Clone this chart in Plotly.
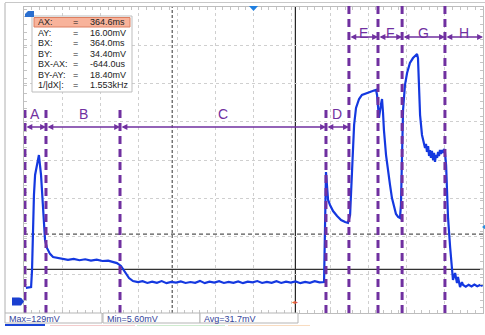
import plotly.graph_objects as go

# ---------------- data ----------------
# time in ms from the left edge of the screen (0.2 ms/div), voltage in mV (20 mV/div)
t_ms = [0.010, 0.037, 0.042, 0.047, 0.052, 0.058, 0.063, 0.068, 0.073, 0.078,
        0.089, 0.094, 0.099, 0.105, 0.110, 0.120, 0.136, 0.152, 0.173,
        0.200, 0.230, 0.260, 0.290, 0.320, 0.350, 0.380, 0.410, 0.440,
        0.460, 0.486, 0.507, 0.528, 0.549, 0.570, 0.596,
        0.620, 0.645, 0.670, 0.695, 0.720, 0.745, 0.770, 0.795, 0.820, 0.845,
        0.870, 0.895, 0.920, 0.945, 0.970, 0.995, 1.020, 1.045, 1.070, 1.095,
        1.120, 1.145, 1.170, 1.195, 1.220, 1.245, 1.270, 1.295, 1.320, 1.345,
        1.370, 1.395, 1.420, 1.445, 1.470, 1.495, 1.520, 1.545,
        1.569, 1.574, 1.579, 1.584, 1.590, 1.600, 1.616, 1.637, 1.658, 1.679,
        1.694, 1.705, 1.715, 1.726, 1.736, 1.752, 1.767, 1.788, 1.809, 1.830,
        1.841, 1.846, 1.856, 1.867, 1.872, 1.877, 1.882, 1.893, 1.903, 1.914,
        1.924, 1.935, 1.945, 1.956, 1.966, 1.971, 1.977, 1.982, 1.992, 2.003,
        2.018, 2.034, 2.050, 2.055, 2.060, 2.065, 2.071, 2.081, 2.092, 2.097,
        2.102, 2.107, 2.113, 2.118, 2.123, 2.128, 2.133, 2.139, 2.144, 2.149,
        2.154, 2.160, 2.165, 2.170, 2.175, 2.180, 2.186, 2.191, 2.196, 2.201,
        2.207, 2.212, 2.217, 2.228, 2.238, 2.243, 2.254, 2.264, 2.269, 2.280,
        2.290, 2.296, 2.310, 2.325, 2.340, 2.355, 2.370, 2.385, 2.398]
v_mv = [6.3, 6.8, 15.7, 36.6, 54.9, 65.4, 68.0, 70.1, 73.2, 75.8,
        65.4, 56.5, 44.4, 36.6, 31.4, 27.2, 24.1, 22.5, 22.0,
        21.6, 21.0, 21.5, 20.8, 21.3, 20.6, 21.1, 20.4, 20.6,
        19.9, 19.3, 17.8, 14.6, 11.5, 9.9, 9.4,
        9.8, 8.9, 9.6, 9.0, 9.9, 8.8, 9.5, 9.1, 9.7, 8.9,
        9.4, 9.0, 10.0, 8.8, 9.6, 9.1, 9.8, 8.9, 9.5, 9.0,
        9.7, 8.8, 9.6, 9.2, 9.9, 8.9, 9.5, 9.0, 9.8, 8.9,
        9.6, 9.1, 9.7, 8.8, 9.5, 9.0, 9.8, 9.2,
        9.4, 31.4, 66.9, 60.1, 52.3, 49.7, 46.5, 43.9, 41.8, 40.8,
        40.3, 44.4, 68.0, 91.5, 100.4, 105.1, 107.2, 108.2, 108.8, 109.5,
        109.8, 107.2, 95.2, 102.5, 105.1, 98.3, 88.9, 75.8, 66.9, 60.1,
        53.3, 48.1, 45.0, 43.4, 42.9, 49.7, 78.4, 99.4, 112.4, 118.7,
        123.9, 126.5, 128.1, 128.6, 126.5, 112.4, 96.7, 86.3, 82.1, 79.5,
        81.6, 77.4, 80.5, 75.3, 78.4, 74.3, 77.9, 73.2, 76.9, 72.2,
        75.8, 74.3, 77.4, 75.3, 78.4, 76.3, 78.4, 76.9, 79.0, 77.4,
        70.6, 59.1, 43.4, 27.7, 17.3, 10.5, 14.1, 8.9, 12.0, 6.8,
        9.4, 7.8, 7.0, 8.0, 7.1, 8.1, 7.2, 7.9, 7.3]

region_names = ["A", "B", "C", "D", "E", "F", "G", "H"]
region_edges_ms = [0.005, 0.115, 0.502, 1.579, 1.699, 1.851, 1.977, 2.201, 2.400]
region_row = ["low", "low", "low", "low", "high", "high", "high", "high"]

cursor_names = ["AX:", "AY:", "BX:", "BY:", "BX-AX:", "BY-AY:", "1/|dX|:"]
cursor_values = ["364.6ms", "16.00mV", "364.0ms", "34.40mV", "-644.0us", "18.40mV", "1.553kHz"]
cursor_bx_ms = 0.775   # dashed vertical cursor
cursor_ax_ms = 1.419   # solid vertical cursor
cursor_ay_mv = 16.0    # solid horizontal cursor
cursor_by_mv = 34.4    # dashed horizontal cursor

stat_texts = ["Max=129mV", "Min=5.60mV", "Avg=31.7mV"]

X_RANGE = [0.0, 2.4]
Y_RANGE = [-6.8, 153.2]

# ---------------- layout helpers (screen pixel -> paper) ----------------
W, H = 485, 335
L, R, T, B = 24, 2, 7, 22
PW, PH = W - L - R, H - T - B


def fx(p):
    return (p - L) / PW


def fy(p):
    return (H - B - p) / PH


PURPLE = "#7030a0"
BLUE = "#1438e0"
FONT = "Liberation Sans, Arial, sans-serif"

fig = go.Figure()
fig.add_trace(go.Scatter(x=t_ms, y=v_mv, mode="lines",
                         line=dict(color=BLUE, width=2.2), hoverinfo="skip"))

shapes = []
annots = []

# outer frame lines
shapes.append(dict(type="line", xref="paper", yref="paper", x0=fx(5), x1=fx(5), y0=fy(3), y1=fy(313),
                   line=dict(color="#b0b0b0", width=1)))
shapes.append(dict(type="line", xref="paper", yref="paper", x0=fx(5), x1=fx(485), y0=fy(2.5), y1=fy(2.5),
                   line=dict(color="#c8c8c8", width=1)))

# cursors
shapes.append(dict(type="line", xref="x", yref="paper", x0=cursor_bx_ms, x1=cursor_bx_ms, y0=0, y1=1,
                   line=dict(color="#555555", width=1.2, dash="3px,2px"), layer="below"))
shapes.append(dict(type="line", xref="x", yref="paper", x0=cursor_ax_ms, x1=cursor_ax_ms, y0=0, y1=1,
                   line=dict(color="#222222", width=1.2), layer="below"))
shapes.append(dict(type="line", xref="paper", yref="y", x0=0, x1=1, y0=cursor_by_mv, y1=cursor_by_mv,
                   line=dict(color="#555555", width=1.2, dash="4px,3px"), layer="below"))
shapes.append(dict(type="line", xref="paper", yref="y", x0=0, x1=1, y0=cursor_ay_mv, y1=cursor_ay_mv,
                   line=dict(color="#333333", width=1.2), layer="below"))

# region boundaries, arrows, letters
for i, edge in enumerate(region_edges_ms[:-1]):
    top = fy(110) if region_row[i] == "low" else fy(5)
    shapes.append(dict(type="line", xref="x", yref="paper", x0=edge, x1=edge, y0=0, y1=top,
                       line=dict(color=PURPLE, width=3, dash="8px,5px")))
for k, name in enumerate(region_names):
    x0, x1 = region_edges_ms[k], region_edges_ms[k + 1]
    ya = fy(127) if region_row[k] == "low" else fy(37)
    yl = fy(114) if region_row[k] == "low" else fy(23)
    annots.append(dict(x=x1, y=ya, xref="x", yref="paper", ax=x0, ay=0, axref="x", ayref="pixel",
                       showarrow=True, arrowside="end+start", arrowhead=2, startarrowhead=2,
                       arrowsize=0.9, startarrowsize=0.9, arrowwidth=1.3, arrowcolor=PURPLE,
                       standoff=0, startstandoff=0, text=""))
    annots.append(dict(x=(x0 + x1) / 2, y=yl, xref="x", yref="paper", text=name, showarrow=False,
                       font=dict(family=FONT, size=14, color=PURPLE)))

# cursor readout box
shapes.append(dict(type="rect", xref="paper", yref="paper", x0=fx(32), x1=fx(132), y0=fy(92), y1=fy(16),
                   fillcolor="white", line=dict(color="#bdbdbd", width=1)))
shapes.append(dict(type="rect", xref="paper", yref="paper", x0=fx(34), x1=fx(130), y0=fy(27), y1=fy(17.5),
                   fillcolor="#f8b39b", line=dict(color="#dd7f60", width=1)))
row_y = [22, 32.5, 43, 53.5, 64, 74.5, 85]
for ry, nm, val in zip(row_y, cursor_names, cursor_values):
    annots.append(dict(x=fx(36), y=fy(ry), xref="paper", yref="paper", text=nm, showarrow=False,
                       xanchor="left", yanchor="middle", font=dict(family=FONT, size=9, color="#222")))
    annots.append(dict(x=fx(75), y=fy(ry), xref="paper", yref="paper", text="=", showarrow=False,
                       xanchor="center", yanchor="middle", font=dict(family=FONT, size=9, color="#222")))
    annots.append(dict(x=fx(88), y=fy(ry), xref="paper", yref="paper", text=val, showarrow=False,
                       xanchor="left", yanchor="middle", font=dict(family=FONT, size=9, color="#222")))

# measurement boxes at the bottom
box_x = [(5, 102), (103, 200), (200, 298)]
for (bx0, bx1), txt in zip(box_x, stat_texts):
    shapes.append(dict(type="rect", xref="paper", yref="paper", x0=fx(bx0), x1=fx(bx1), y0=fy(323), y1=fy(313),
                       fillcolor="white", line=dict(color="#b5b5b5", width=1)))
    annots.append(dict(x=fx(bx0 + 2), y=fy(318.5), xref="paper", yref="paper", text=txt, showarrow=False,
                       xanchor="left", yanchor="middle", font=dict(family=FONT, size=9, color="#34449a")))
shapes.append(dict(type="line", xref="paper", yref="paper", x0=fx(5), x1=fx(45), y0=fy(325), y1=fy(325),
                   line=dict(color="#1a44d8", width=2)))
for (a, b, c) in [(50, 135, "#f4cccc"), (137, 225, "#cfeccf"), (228, 310, "#f9dcc0")]:
    shapes.append(dict(type="line", xref="paper", yref="paper", x0=fx(a), x1=fx(b), y0=fy(325.5), y1=fy(325.5),
                       line=dict(color=c, width=1)))

# small markers
def path(pts):
    return "M " + " L ".join(f"{fx(x):.5f},{fy(y):.5f}" for x, y in pts) + " Z"

shapes.append(dict(type="path", xref="paper", yref="paper", path=path([(249, 6), (258, 6), (253.5, 11)]),
                   fillcolor="#1f7fe0", line=dict(width=0)))
shapes.append(dict(type="path", xref="paper", yref="paper", path=path([(25, 14), (28, 11), (34, 11), (34, 17), (25, 17)]),
                   fillcolor="#2a6fd0", line=dict(width=0)))
shapes.append(dict(type="path", xref="paper", yref="paper", path=path([(486, 224), (482, 227), (486, 230)]),
                   fillcolor="#2a8fe0", line=dict(width=0)))
shapes.append(dict(type="path", xref="paper", yref="paper",
                   path=path([(12, 297.5), (21, 297.5), (24, 301.5), (21, 305.5), (12, 305.5)]),
                   fillcolor="#1a3fd0", line=dict(width=0)))
annots.append(dict(x=fx(16.5), y=fy(301.5), xref="paper", yref="paper", text="1", showarrow=False,
                   font=dict(family=FONT, size=8, color="white")))
annots.append(dict(x=fx(295), y=fy(307), xref="paper", yref="paper", text="◂▸", showarrow=False,
                   font=dict(family="DejaVu Sans", size=6, color="#e8603a")))

axis_common = dict(showticklabels=False, showgrid=True, gridcolor="#cfcfcf", griddash="dot", gridwidth=1,
                   showline=True, linecolor="#bdbdbd", linewidth=1, mirror="ticks", ticks="inside",
                   ticklen=3, tickcolor="#c4c4c4", zeroline=False, fixedrange=True)

fig.update_layout(
    width=W, height=H, margin=dict(l=L, r=R, t=T, b=B),
    paper_bgcolor="white", plot_bgcolor="white", showlegend=False,
    xaxis=dict(range=X_RANGE, dtick=0.2, tick0=0,
               minor=dict(dtick=0.04, ticks="inside", ticklen=3, tickcolor="#c4c4c4", showgrid=False),
               **axis_common),
    yaxis=dict(range=Y_RANGE, dtick=20, tick0=Y_RANGE[0],
               minor=dict(dtick=4, ticks="inside", ticklen=3, tickcolor="#c4c4c4", showgrid=False),
               **axis_common),
    xaxis2=dict(range=X_RANGE, overlaying="x", anchor="free", position=0.5, showticklabels=False,
                showgrid=False, showline=False, zeroline=False, ticks="inside", ticklen=3, tickcolor="#c4c4c4",
                dtick=0.04, tick0=0),
    yaxis2=dict(range=Y_RANGE, overlaying="y", anchor="free", position=0.5, showticklabels=False,
                showgrid=False, showline=False, zeroline=False, ticks="inside", ticklen=3, tickcolor="#c4c4c4",
                dtick=4, tick0=Y_RANGE[0]),
    shapes=shapes, annotations=annots,
)

fig.write_html("out.html", config={"displayModeBar": False, "staticPlot": True},
               post_script="document.body.style.margin='0';document.body.style.padding='0';"
                           "document.body.style.overflow='hidden';")
